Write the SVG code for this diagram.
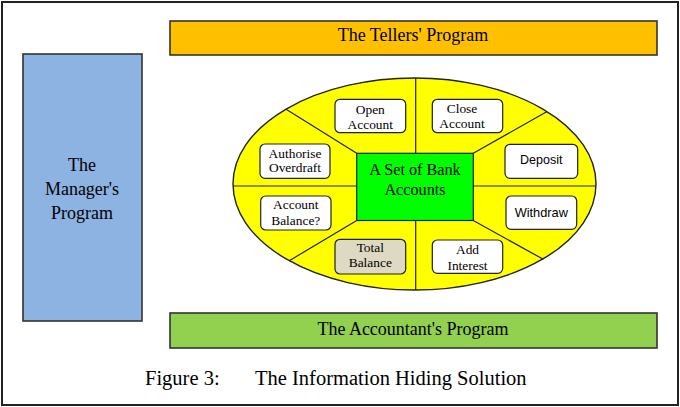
<svg xmlns="http://www.w3.org/2000/svg" width="680" height="407" viewBox="0 0 680 407">
<style>
.serif{font-family:"Liberation Serif","Times New Roman",serif;fill:#000;text-anchor:middle}
.sans{font-family:"Liberation Sans",Arial,sans-serif;fill:#000;text-anchor:middle}
.bar{stroke:#333;stroke-width:1.6}
.op{fill:#fff;stroke:#222;stroke-width:1.2}
.div{stroke:#222;stroke-width:1.2;fill:none}
</style>
<rect x="2" y="2" width="676" height="403" fill="#fff" stroke="#222" stroke-width="2"/>
<g id="tellers">
<rect class="bar" x="170" y="21" width="487" height="34" fill="#FFC000"/>
<text class="serif" x="413" y="41" font-size="18">The Tellers' Program</text>
</g>
<g id="manager">
<rect class="bar" x="23" y="54" width="119" height="267" fill="#8DB3E2"/>
<text class="serif" font-size="18"><tspan x="82" y="171">The</tspan><tspan x="82" y="195">Manager's</tspan><tspan x="82" y="218.5">Program</tspan></text>
</g>
<g id="accountant">
<rect class="bar" x="170" y="313" width="487" height="35" fill="#92D050"/>
<text class="serif" x="413" y="335" font-size="18">The Accountant's Program</text>
</g>
<g id="ellipse">
<ellipse cx="414.5" cy="184" rx="181.5" ry="106" fill="#FFFF00" stroke="#222" stroke-width="1.4"/>
</g>
<g id="connectors">
<line class="div" x1="415.7" y1="78" x2="415.7" y2="153.3"/>
<line class="div" x1="415.7" y1="220.5" x2="415.7" y2="290"/>
<line class="div" x1="233" y1="186" x2="356.7" y2="186"/>
<line class="div" x1="473.3" y1="186" x2="596" y2="186"/>
<line class="div" x1="285.7" y1="109" x2="356.7" y2="153.3"/>
<line class="div" x1="473.3" y1="153.3" x2="546.7" y2="111.7"/>
<line class="div" x1="356.7" y1="220.5" x2="289.3" y2="260.7"/>
<line class="div" x1="473.3" y1="220.5" x2="543.3" y2="259.3"/>
</g>
<g id="accounts">
<rect x="356.7" y="153.3" width="116.6" height="67.2" fill="#00FF00" stroke="#222" stroke-width="1.2"/>
<text class="serif" font-size="16.2"><tspan x="415" y="175">A Set of Bank</tspan><tspan x="415" y="194.5">Accounts</tspan></text>
</g>
<g id="open-account">
<rect class="op" x="335" y="99.3" width="70.7" height="33.4" rx="5"/>
<text class="serif" font-size="13.4"><tspan x="370.3" y="114.3">Open</tspan><tspan x="370.3" y="129.3">Account</tspan></text>
</g>
<g id="close-account">
<rect class="op" x="432.3" y="99.3" width="70.4" height="33.4" rx="5"/>
<text class="serif" font-size="13.4"><tspan x="462" y="113.3">Close</tspan><tspan x="462" y="128.3">Account</tspan></text>
</g>
<g id="authorise-overdraft">
<rect class="op" x="260" y="144" width="70" height="34.3" rx="5"/>
<text class="serif" font-size="13.4"><tspan x="295" y="157.5">Authorise</tspan><tspan x="295" y="172">Overdraft</tspan></text>
</g>
<g id="deposit">
<rect class="op" x="505" y="144.3" width="72.7" height="34" rx="5"/>
<text class="sans" x="541.3" y="163.5" font-size="12.5">Deposit</text>
</g>
<g id="account-balance">
<rect class="op" x="260.7" y="196" width="70.3" height="34" rx="5"/>
<text class="serif" font-size="13.4"><tspan x="295.8" y="209.3">Account</tspan><tspan x="295.8" y="224.5">Balance?</tspan></text>
</g>
<g id="withdraw">
<rect class="op" x="506" y="196" width="70.7" height="33.3" rx="5"/>
<text class="sans" x="541.3" y="216.7" font-size="12.8">Withdraw</text>
</g>
<g id="total-balance">
<rect x="335" y="239.3" width="70.7" height="34.7" rx="5" fill="#DDD9C3" stroke="#222" stroke-width="1.2"/>
<text class="serif" font-size="13.4"><tspan x="370.3" y="252">Total</tspan><tspan x="370.3" y="267">Balance</tspan></text>
</g>
<g id="add-interest">
<rect class="op" x="432.3" y="240" width="70.4" height="33.3" rx="5"/>
<text class="serif" font-size="13.4"><tspan x="467.5" y="254.3">Add</tspan><tspan x="467.5" y="269.5">Interest</tspan></text>
</g>
<g id="caption">
<text class="serif" x="145" y="385" font-size="20.5" style="text-anchor:start">Figure 3:</text>
<text class="serif" x="255" y="385" font-size="20.5" style="text-anchor:start">The Information Hiding Solution</text>
</g>
</svg>
